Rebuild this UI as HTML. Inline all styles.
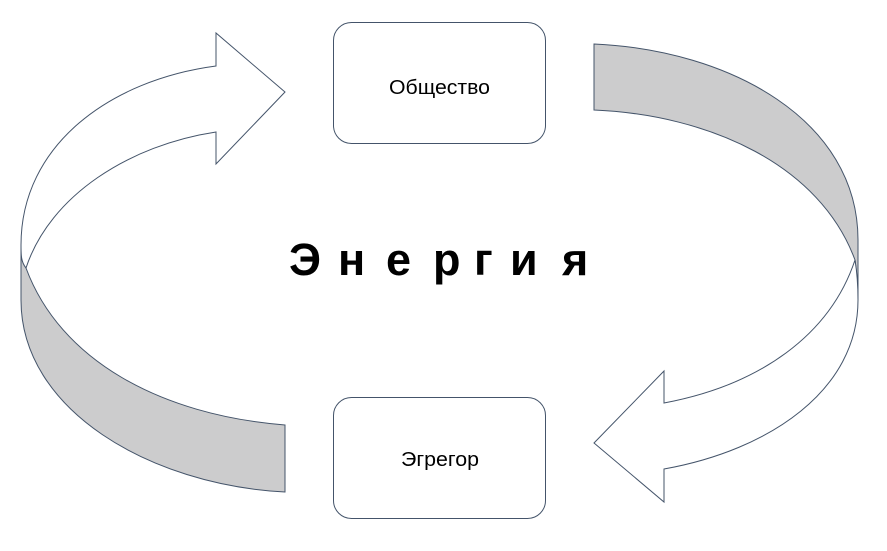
<!DOCTYPE html>
<html><head><meta charset="utf-8"><style>
html,body{margin:0;padding:0;background:#fff;width:887px;height:551px;overflow:hidden}
</style></head><body>
<svg width="887" height="551" viewBox="0 0 887 551" xmlns="http://www.w3.org/2000/svg">
<g stroke="#44546a" stroke-width="1" stroke-linejoin="miter">
<path d="M21,245 L21,300 C21,410 150,485 285,492 L285,425 C160,415 60,360 26,268 Z" fill="#cccccd"/>
<path d="M216,66 L216,33 L285,92 L216,164 L216,132 C130,145 50,195 26,268 C21,262 21,255 21,245 C21,145 110,80 216,66 Z" fill="#fff"/>
<path d="M594,44 C730,50 858,120 858,240 L858,300 C858,290 857,275 855,260 C820,165 710,115 594,110 Z" fill="#cccccd"/>
<path d="M855,260 C830,335 760,385 664,403 L664,371 L594,443 L664,502 L664,469 C770,450 858,390 858,300 C858,285 857,272 855,260 Z" fill="#fff"/>
</g>
<rect x="333.5" y="22.5" width="212" height="121" rx="18" fill="#fff" stroke="#44546a"/>
<rect x="333.5" y="397.5" width="212" height="121" rx="18" fill="#fff" stroke="#44546a"/>
<g font-family="Liberation Sans, DejaVu Sans, sans-serif" fill="#000">
<text x="389" y="94" font-size="20" textLength="101" lengthAdjust="spacingAndGlyphs">Общество</text>
<text x="401" y="466" font-size="20" textLength="78" lengthAdjust="spacingAndGlyphs">Эгрегор</text>
<g font-size="45" font-weight="bold">
<text x="289" y="275">Э</text>
<text x="338" y="275">н</text>
<text x="386" y="275">е</text>
<text x="433" y="275">р</text>
<text x="474" y="275">г</text>
<text x="510" y="275">и</text>
<text x="562" y="275">я</text>
</g>
</g>
</svg>
</body></html>
